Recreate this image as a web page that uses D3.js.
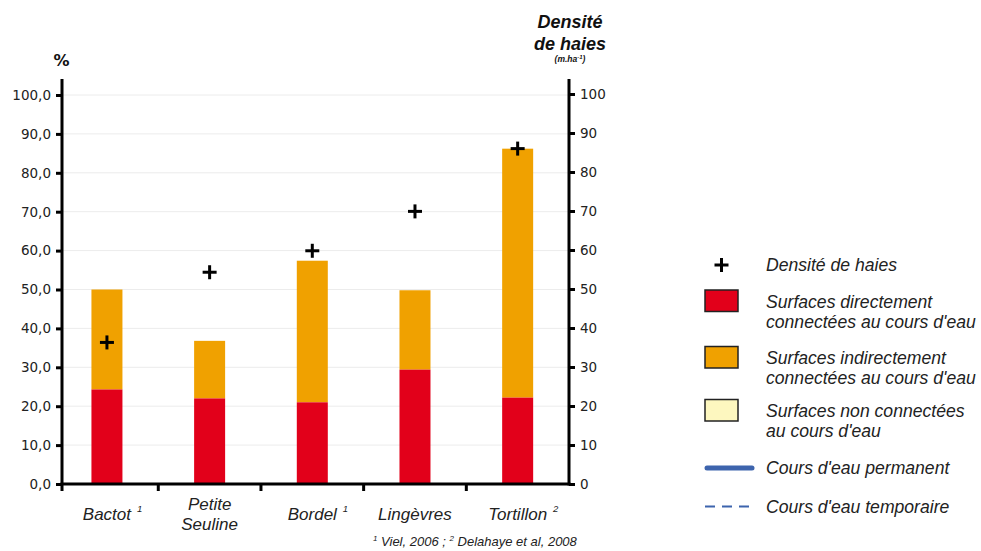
<!DOCTYPE html>
<html><head><meta charset="utf-8">
<script src="https://cdn.jsdelivr.net/npm/d3@7"></script>
<style>
body{margin:0;background:#fff;}
svg{display:block;}
</style></head>
<body>
<svg id="chart" width="981" height="551"></svg>
<script>
const categories = ["Bactot", "Petite Seuline", "Bordel", "Lingèvres", "Tortillon"];
const categoryNotes = ["1", "", "1", "", "2"];
const directValues = [24.3, 22.0, 21.0, 29.4, 22.2];
const totalValues = [50.0, 36.8, 57.4, 49.8, 86.2];
const hedgeDensity = [36.3, 54.3, 59.8, 69.9, 86.0];
const leftTicks = [0, 10, 20, 30, 40, 50, 60, 70, 80, 90, 100];
const rightTicks = [0, 10, 20, 30, 40, 50, 60, 70, 80, 90, 100];

const colRed = "#e2001a", colOrange = "#f0a100", colYellow = "#fdf7bf", colBlue = "#3d64ad";
const svg = d3.select("#chart");
const x0 = 62, x1 = 569, yBottom = 484, yTop = 95;

const x = d3.scaleBand().domain(categories).range([55.6, 569]).paddingInner(0.7).paddingOuter(0.35);
const yL = d3.scaleLinear().domain([0, 100]).range([yBottom, yTop]);
const yR = d3.scaleLinear().domain([0, 100]).range([yBottom, yTop - 1]);

// gridlines
svg.append("g").selectAll("line").data(leftTicks.filter(d => d > 0)).join("line")
  .attr("x1", x0).attr("x2", x1).attr("y1", d => yL(d)).attr("y2", d => yL(d))
  .attr("stroke", "#ececec").attr("stroke-width", 1);

// bars
const bw = 31;
const cx = c => x(c) + x.bandwidth() / 2;
svg.append("g").selectAll("rect").data(categories).join("rect")
  .attr("x", c => cx(c) - bw / 2).attr("width", bw)
  .attr("y", (c, i) => yL(totalValues[i])).attr("height", (c, i) => yL(directValues[i]) - yL(totalValues[i]))
  .attr("fill", colOrange);
svg.append("g").selectAll("rect").data(categories).join("rect")
  .attr("x", c => cx(c) - bw / 2).attr("width", bw)
  .attr("y", (c, i) => yL(directValues[i])).attr("height", (c, i) => yL(0) - yL(directValues[i]))
  .attr("fill", colRed);

// left axis
const leftAxis = d3.axisLeft(yL).tickValues(leftTicks).tickSize(6).tickPadding(5)
  .tickFormat(d => d3.format(".1f")(d).replace(".", ","));
const gL = svg.append("g").attr("transform", `translate(${x0},0)`).call(leftAxis);
gL.select(".domain").remove();
gL.selectAll(".tick line").attr("stroke", "#000").attr("stroke-width", 3);
gL.selectAll(".tick text").attr("font-family", "DejaVu Sans").attr("font-size", 13.5).attr("fill", "#222");
svg.append("line").attr("x1", x0).attr("x2", x0).attr("y1", 79).attr("y2", 491).attr("stroke", "#000").attr("stroke-width", 3);

// right axis
const rightAxis = d3.axisRight(yR).tickValues(rightTicks).tickSize(6).tickPadding(5).tickFormat(d3.format("d"));
const gR = svg.append("g").attr("transform", `translate(${x1},0)`).call(rightAxis);
gR.select(".domain").remove();
gR.selectAll(".tick line").attr("stroke", "#000").attr("stroke-width", 3);
gR.selectAll(".tick text").attr("font-family", "DejaVu Sans").attr("font-size", 13.5).attr("fill", "#222");
svg.append("line").attr("x1", x1).attr("x2", x1).attr("y1", 79).attr("y2", 485.5).attr("stroke", "#000").attr("stroke-width", 3);

// bottom axis
svg.append("line").attr("x1", x0 - 1.5).attr("x2", x1 + 1.5).attr("y1", yBottom).attr("y2", yBottom).attr("stroke", "#000").attr("stroke-width", 3);
const boundaries = categories.slice(1).map(c => x(c) - x.step() * x.paddingInner() / 2);
svg.append("g").selectAll("line").data(boundaries).join("line")
  .attr("x1", d => d).attr("x2", d => d).attr("y1", yBottom).attr("y2", yBottom + 7)
  .attr("stroke", "#000").attr("stroke-width", 3);

// plus markers
const plus = (g, px, py) => {
  g.append("line").attr("x1", px - 7).attr("x2", px + 7).attr("y1", py).attr("y2", py).attr("stroke", "#000").attr("stroke-width", 3);
  g.append("line").attr("x1", px).attr("x2", px).attr("y1", py - 7).attr("y2", py + 7).attr("stroke", "#000").attr("stroke-width", 3);
};
const gP = svg.append("g");
categories.forEach((c, i) => plus(gP, cx(c), yR(hedgeDensity[i])));

// category labels
const catFont = "Liberation Sans, Arial, sans-serif";
categories.forEach((c, i) => {
  const words = c.split(" ");
  const lines = words.length > 1 ? words : [c];
  const base = lines.length > 1 ? 510 : 520;
  let maxW = 0;
  lines.forEach((ln, k) => {
    const t = svg.append("text").attr("x", cx(c)).attr("y", base + k * 20)
      .attr("text-anchor", "middle").attr("font-family", catFont).attr("font-style", "italic")
      .attr("font-size", 17).attr("fill", "#222").text(ln);
    maxW = Math.max(maxW, t.node().getComputedTextLength());
  });
  if (categoryNotes[i]) {
    svg.append("text").attr("x", cx(c) + maxW / 2 + 6).attr("y", base - 8)
      .attr("font-family", catFont).attr("font-style", "italic").attr("font-size", 9.5).attr("fill", "#222")
      .text(categoryNotes[i]);
  }
});

// footnote
const fn = svg.append("text").attr("x", 373).attr("y", 546).attr("font-family", catFont)
  .attr("font-style", "italic").attr("font-size", 13).attr("fill", "#222");
fn.append("tspan").attr("font-size", 8).attr("dy", -5).text("1");
fn.append("tspan").attr("dy", 5).text(" Viel, 2006 ; ");
fn.append("tspan").attr("font-size", 8).attr("dy", -5).text("2");
fn.append("tspan").attr("dy", 5).text(" Delahaye et al, 2008");

// axis titles
svg.append("text").attr("x", 61.5).attr("y", 65.5).attr("text-anchor", "middle")
  .attr("font-family", "DejaVu Sans").attr("font-weight", "bold").attr("font-size", 16).attr("fill", "#111").text("%");
svg.append("text").attr("x", 570).attr("y", 28).attr("text-anchor", "middle")
  .attr("font-family", catFont).attr("font-weight", "bold").attr("font-style", "italic").attr("font-size", 18).attr("fill", "#111").text("Densité");
svg.append("text").attr("x", 570).attr("y", 50).attr("text-anchor", "middle")
  .attr("font-family", catFont).attr("font-weight", "bold").attr("font-style", "italic").attr("font-size", 18).attr("fill", "#111").text("de haies");
const unit = svg.append("text").attr("x", 570).attr("y", 62).attr("text-anchor", "middle")
  .attr("font-family", catFont).attr("font-weight", "bold").attr("font-style", "italic").attr("font-size", 8.5).attr("fill", "#111");
unit.append("tspan").text("(m.ha");
unit.append("tspan").attr("font-size", 6).attr("dy", -3).text("-1");
unit.append("tspan").attr("dy", 3).text(")");

// legend
const lg = svg.append("g");
const lx = 705, tx = 766;
const legText = (lines, y0) => lines.forEach((ln, k) => lg.append("text").attr("x", tx).attr("y", y0 + k * 20)
  .attr("font-family", catFont).attr("font-style", "italic").attr("font-size", 17.6).attr("fill", "#222").text(ln));
plus(lg, 721.5, 265);
legText(["Densité de haies"], 271);
const boxes = [
  {c: colRed, y: 290, t: ["Surfaces directement", "connectées au cours d'eau"]},
  {c: colOrange, y: 346.5, t: ["Surfaces indirectement", "connectées au cours d'eau"]},
  {c: colYellow, y: 399.5, t: ["Surfaces non connectées", "au cours d'eau"]}
];
boxes.forEach(b => {
  lg.append("rect").attr("x", lx).attr("y", b.y).attr("width", 33).attr("height", 21.5)
    .attr("fill", b.c).attr("stroke", "#222").attr("stroke-width", 1.5);
  legText(b.t, b.y + 17.5);
});
lg.append("line").attr("x1", lx + 2).attr("x2", 752).attr("y1", 468).attr("y2", 468)
  .attr("stroke", colBlue).attr("stroke-width", 5).attr("stroke-linecap", "round");
legText(["Cours d'eau permanent"], 474);
lg.append("line").attr("x1", lx).attr("x2", 752).attr("y1", 506.5).attr("y2", 506.5)
  .attr("stroke", colBlue).attr("stroke-width", 2).attr("stroke-dasharray", "10,7");
legText(["Cours d'eau temporaire"], 512.5);
</script>
</body></html>
